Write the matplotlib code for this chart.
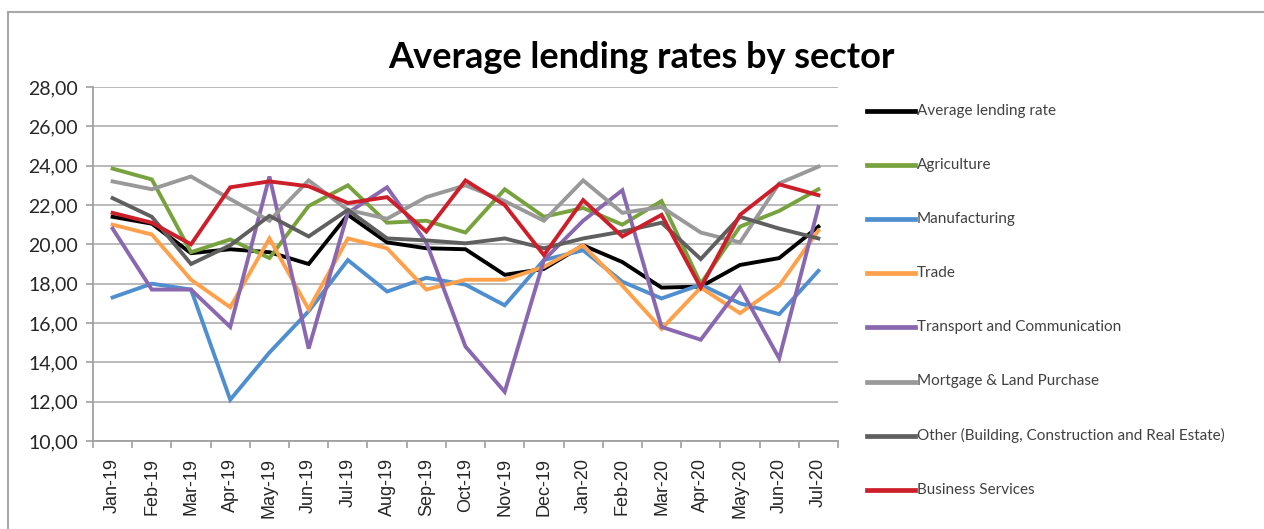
import matplotlib.pyplot as plt
from matplotlib.lines import Line2D
from matplotlib.ticker import FuncFormatter, MultipleLocator

# data
months = ['Jan-19', 'Feb-19', 'Mar-19', 'Apr-19', 'May-19', 'Jun-19', 'Jul-19',
          'Aug-19', 'Sep-19', 'Oct-19', 'Nov-19', 'Dec-19', 'Jan-20', 'Feb-20',
          'Mar-20', 'Apr-20', 'May-20', 'Jun-20', 'Jul-20']

avg_rate = [21.4, 21.05, 19.55, 19.75, 19.6, 19.0, 21.5, 20.1, 19.8, 19.75,
            18.45, 18.75, 19.95, 19.1, 17.8, 17.85, 18.95, 19.3, 20.9]
agriculture = [23.85, 23.3, 19.6, 20.25, 19.3, 21.95, 23.0, 21.1, 21.2, 20.6,
               22.8, 21.4, 21.85, 21.0, 22.2, 18.0, 20.9, 21.7, 22.8]
manufacturing = [17.3, 18.0, 17.7, 12.1, 14.5, 16.6, 19.2, 17.6, 18.3, 17.95,
                 16.9, 19.2, 19.7, 18.1, 17.25, 17.95, 17.0, 16.45, 18.65]
trade = [21.0, 20.5, 18.2, 16.8, 20.3, 16.7, 20.3, 19.8, 17.7, 18.2,
         18.2, 18.85, 19.95, 17.9, 15.7, 17.8, 16.5, 17.9, 20.7]
transport = [20.8, 17.7, 17.7, 15.8, 23.45, 14.7, 21.6, 22.9, 20.1, 14.8,
             12.5, 19.2, 21.2, 22.75, 15.8, 15.15, 17.8, 14.2, 21.9]
mortgage = [23.2, 22.8, 23.45, 22.3, 21.2, 23.25, 21.75, 21.3, 22.4, 23.0,
            22.2, 21.2, 23.25, 21.6, 21.9, 20.6, 20.1, 23.1, 23.95]
other = [22.35, 21.4, 19.0, 19.95, 21.45, 20.4, 21.75, 20.3, 20.2, 20.05,
         20.3, 19.8, 20.3, 20.65, 21.1, 19.25, 21.4, 20.8, 20.3]
business = [21.6, 21.1, 20.0, 22.9, 23.2, 22.95, 22.1, 22.4, 20.65, 23.25,
            22.0, 19.45, 22.25, 20.4, 21.5, 17.8, 21.5, 23.05, 22.5]

series = [
    ('Average lending rate', avg_rate, '#000000'),
    ('Agriculture', agriculture, '#77a23d'),
    ('Manufacturing', manufacturing, '#4f8fd0'),
    ('Trade', trade, '#ffa04a'),
    ('Transport and Communication', transport, '#8a68b0'),
    ('Mortgage & Land Purchase', mortgage, '#999999'),
    ('Other (Building, Construction and Real Estate)', other, '#5f5f5f'),
    ('Business Services', business, '#cc1f2a'),
]

plt.rcParams['font.family'] = ['Lato', 'DejaVu Sans']

W, H = 1264, 529
fig = plt.figure(figsize=(W / 100, H / 100), dpi=100)
ax = fig.add_axes([93 / W, 1 - 441 / H, 745 / W, 354 / H])

x = list(range(len(months)))
for name, vals, col in series:
    ax.plot(x, vals, color=col, lw=2.8, solid_joinstyle='miter')

ax.set_xlim(-0.5, len(months) - 0.5)
ax.set_ylim(10, 28)
ax.yaxis.set_major_locator(MultipleLocator(2))
ax.yaxis.set_major_formatter(FuncFormatter(lambda v, p: f'{v:.2f}'.replace('.', ',')))
ax.grid(axis='y', color='#b4b4b4', lw=1.3)
ax.set_axisbelow(True)

ax.set_xticks(x)
ax.set_xticklabels(months, rotation=90, fontsize=13, color='#262626',
                   family='Liberation Sans')
ax.set_xticks([i - 0.5 for i in range(len(months) + 1)], minor=True)
ax.tick_params(axis='x', which='major', length=0, pad=12)
ax.tick_params(axis='x', which='minor', length=5, color='#a0a0a0', width=1.2)
ax.tick_params(axis='y', length=5, color='#a0a0a0', width=1.2, labelsize=14,
               labelcolor='#262626', pad=6)

for s in ['top', 'right']:
    ax.spines[s].set_visible(False)
for s in ['left', 'bottom']:
    ax.spines[s].set_color('#a0a0a0')
    ax.spines[s].set_linewidth(1.3)

fig.text(641 / W, 1 - 58 / H, 'Average lending rates by sector', ha='center',
         va='center', fontsize=26, fontweight='bold', color='#000000')

# legend drawn by hand to match spacing
for i, (name, vals, col) in enumerate(series):
    yy = 1 - (111 + i * 54.1) / H
    fig.add_artist(Line2D([867 / W, 915 / W], [yy, yy], color=col, lw=3.4,
                          transform=fig.transFigure))
    fig.text(917 / W, yy, name, ha='left', va='center', fontsize=11,
             color='#404040')

# chart frame
fig.add_artist(Line2D([8 / W, 8 / W], [0, 1 - 12 / H], color='#a8a8a8', lw=1.5,
                      transform=fig.transFigure))
fig.add_artist(Line2D([8 / W, 1], [1 - 12 / H, 1 - 12 / H], color='#a8a8a8',
                      lw=1.5, transform=fig.transFigure))

fig.savefig('out.png', dpi=100)
